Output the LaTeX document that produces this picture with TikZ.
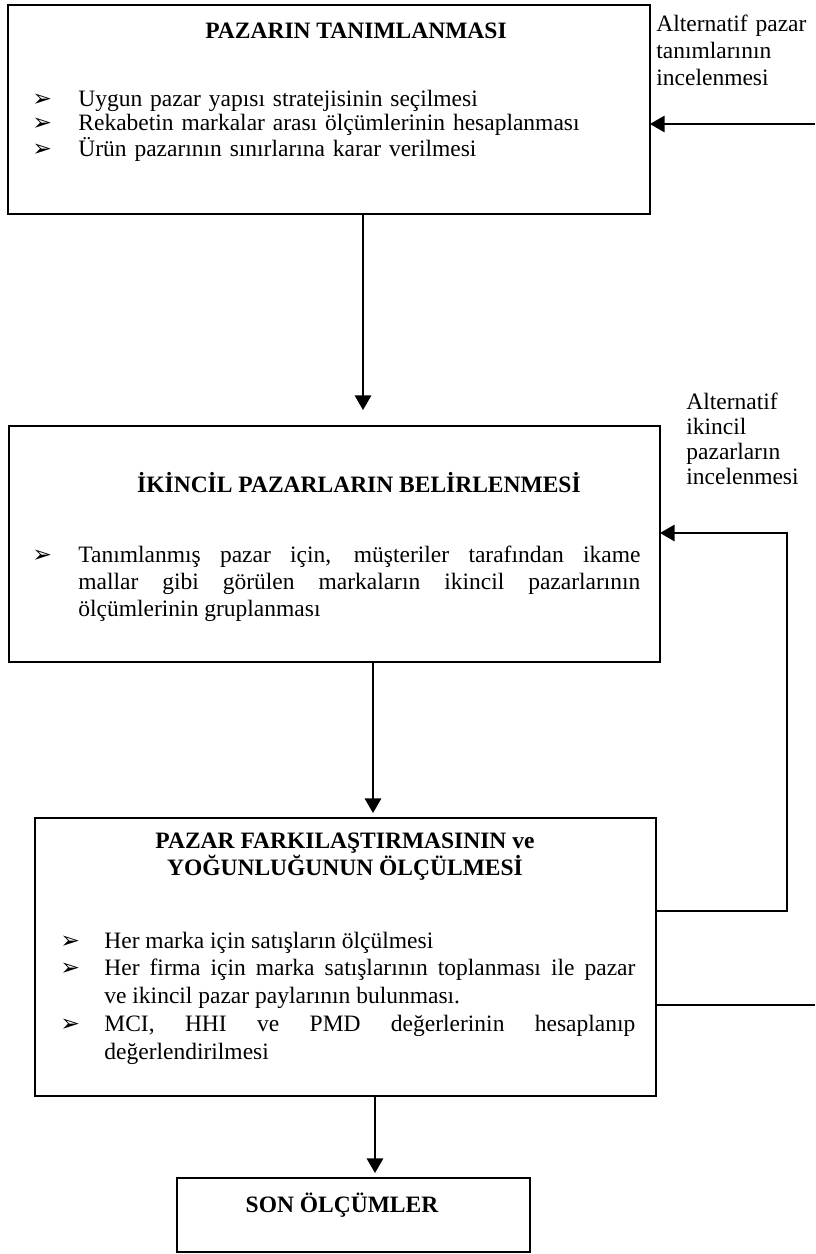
\documentclass[tikz,border=0pt]{standalone}
\usepackage{fontspec}
\setmainfont{Liberation Serif}
\newfontfamily\okfont{DejaVu Sans}
\usetikzlibrary{arrows}
\newcommand{\bul}{{\okfont ➢}}
\newcommand{\madde}[2][23pt]{\hangindent=#1\hangafter=1\makebox[#1][l]{\bul}#2\par}

\begin{document}
\begin{tikzpicture}[x=0.5pt,y=-0.5pt,>=triangle 60,
  kutu/.style={draw,line width=1pt,inner sep=0pt,outer sep=0pt,anchor=north west},
  baslik/.style={font=\fontsize{11.75pt}{13.5pt}\selectfont\bfseries,align=center,inner sep=0pt},
  metin/.style={inner sep=0pt,anchor=base west},
  etiket/.style={metin,text width=86pt,align=left},
  ok/.style={->,line width=1pt},
  geri/.style={line width=1pt}]
\useasboundingbox (0,0) rectangle (815,1254);

\node[kutu,minimum width=321pt,minimum height=104.5pt] (tanim) at (8,5) {};
\node[baslik] (tanimB) at (356,31) {PAZARIN TANIMLANMASI};
\node[metin,text width=304pt,align=left,font=\fontsize{11.75pt}{12pt}\selectfont] (tanimM) at (32,106)
  {\madde{Uygun pazar yapısı stratejisinin seçilmesi}\madde{Rekabetin markalar arası ölçümlerinin hesaplanması}\madde{Ürün pazarının sınırlarına karar verilmesi}};
\node[etiket,font=\fontsize{11.75pt}{13.5pt}\selectfont] (etiket1) at (656,31) {Alternatif pazar\\tanımlarının\\incelenmesi};

\node[kutu,minimum width=325.5pt,minimum height=118pt] (ikincil) at (9,426) {};
\node[baslik] (ikincilB) at (359,483) {İKİNCİL PAZARLARIN BELİRLENMESİ};
\node[metin,text width=304pt,align=justify,font=\fontsize{11.75pt}{13.6pt}\selectfont] (ikincilM) at (32,562)
  {\madde{Tanımlanmış pazar için, müşteriler tarafından ikame\linebreak mallar gibi görülen markaların ikincil pazarlarının\linebreak ölçümlerinin gruplanması}};
\node[etiket,font=\fontsize{11.75pt}{12.5pt}\selectfont] (etiket2) at (686,409) {Alternatif\\ikincil\\pazarların\\incelenmesi};

\node[kutu,minimum width=310.5pt,minimum height=139pt] (olcum) at (35,818) {};
\node[baslik] (olcumB) at (345,857) {PAZAR FARKILAŞTIRMASININ ve\\YOĞUNLUĞUNUN ÖLÇÜLMESİ};
\node[metin,text width=287.5pt,align=justify,font=\fontsize{11.75pt}{13.9pt}\selectfont] (olcumM) at (60,948)
  {\madde[22pt]{Her marka için satışların ölçülmesi}\madde[22pt]{Her firma için marka satışlarının toplanması ile pazar\linebreak ve ikincil pazar paylarının bulunması.}\madde[22pt]{MCI, HHI ve PMD değerlerinin hesaplanıp\linebreak değerlendirilmesi}};

\node[kutu,minimum width=176.5pt,minimum height=37pt] (son) at (177,1178) {};
\node[baslik] (sonB) at (342,1205) {SON ÖLÇÜMLER};

\coordinate (a1) at (363,0);
\coordinate (a2) at (373,0);
\coordinate (a3) at (375,0);
\coordinate (g1) at (815,124);
\coordinate (d1) at (787,911);
\coordinate (d2) at (787,533);
\coordinate (g3) at (815,1005);

\draw[ok,shorten >=8pt] (tanim.south -| a1) -- (ikincil.north -| a1);
\draw[ok,shorten >=2.5pt] (ikincil.south -| a2) -- (olcum.north -| a2);
\draw[ok,shorten >=2.5pt] (olcum.south -| a3) -- (son.north -| a3);
\draw[ok] (g1) -- (g1 -| tanim.east);
\draw[ok] (olcum.east |- d1) -- (d1) -- (d2) -- (d2 -| ikincil.east);
\draw[geri] (olcum.east |- g3) -- (g3);
\end{tikzpicture}
\end{document}
